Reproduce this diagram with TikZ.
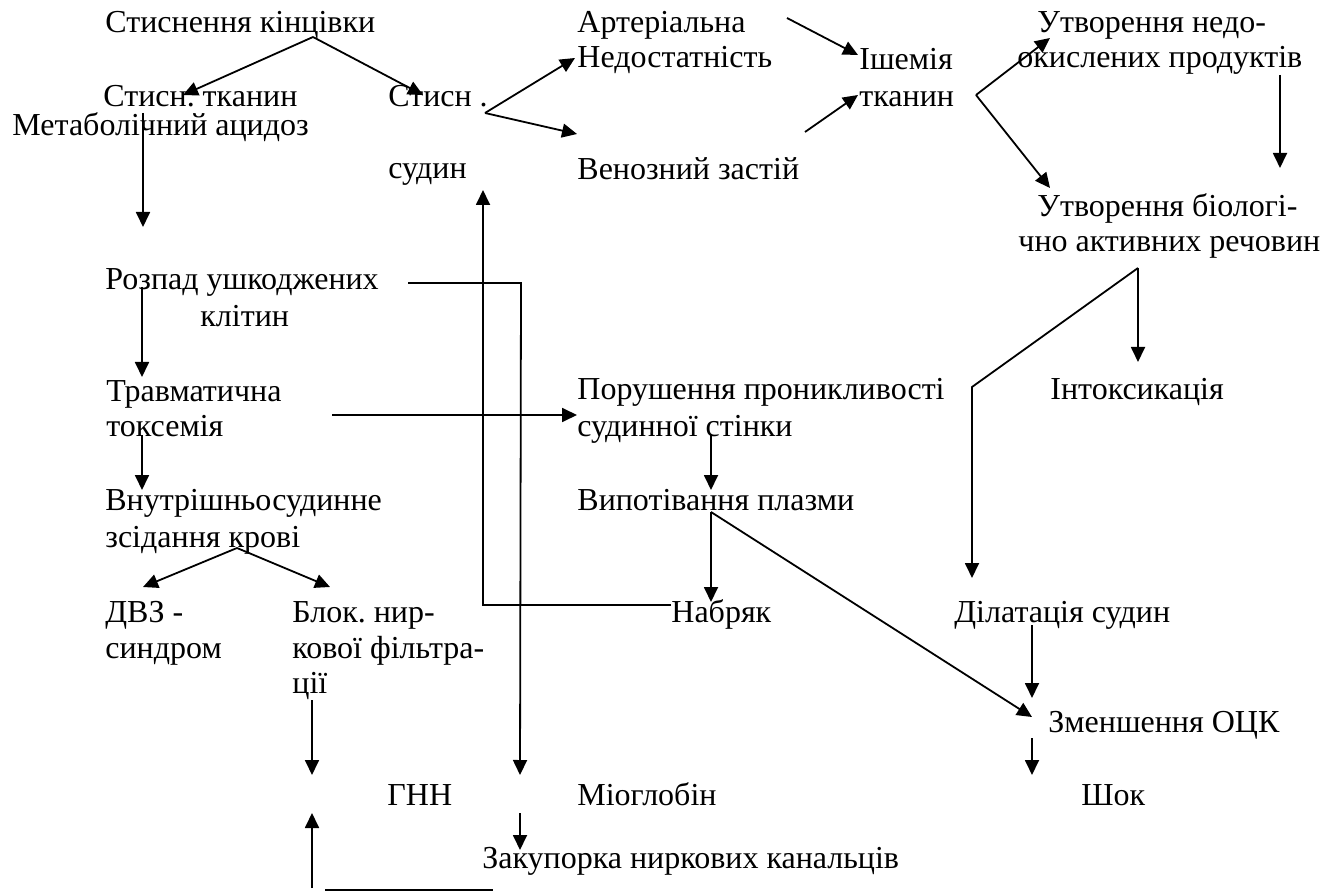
\documentclass[tikz,border=0pt]{standalone}
\usepackage{fontspec}
\setmainfont{Liberation Serif}
\usetikzlibrary{arrows.meta}
\frenchspacing

\begin{document}
\begin{tikzpicture}[
  x=0.5pt, y=-0.5pt,
  txt/.style={anchor=base west, inner sep=0pt, font=\fontsize{16}{18}\selectfont},
  arrow/.style={-{Triangle[length=7.5pt,width=7pt]}, line width=0.9pt},
  link/.style={line width=0.9pt}
]
\useasboundingbox (0,0) rectangle (1339,893);

\node[txt] (kin) at (105,33) {Стиснення кінцівки};
\node[txt] (tkan) at (103,107) {Стисн. тканин};
\node[txt] (acid) at (12,136) {Метаболічний ацидоз};
\node[txt] (sud1) at (388,107) {Стисн .};
\node[txt] (sud2) at (388,179) {судин};
\node[txt] (art1) at (577,33) {Артеріальна};
\node[txt] (art2) at (577,68) {Недостатність};
\node[txt] (ven) at (577,180) {Венозний застій};
\node[txt] (ish1) at (859,70) {Ішемія};
\node[txt] (ish2) at (859,107) {тканин};
\node[txt] (ut1) at (1037,33) {Утворення недо-};
\node[txt] (ut2) at (1017,68) {окислених продуктів};
\node[txt] (bio1) at (1037,217) {Утворення біологі-};
\node[txt] (bio2) at (1018,252) {чно активних речовин};
\node[txt] (roz1) at (105,290) {Розпад ушкоджених};
\node[txt] (roz2) at (200,327) {клітин};
\node[txt] (tr1) at (106,401) {Травматична};
\node[txt] (tr2) at (106,437) {токсемія};
\node[txt] (por1) at (577,400) {Порушення проникливості};
\node[txt] (por2) at (577,437) {судинної стінки};
\node[txt] (intox) at (1050,400) {Інтоксикація};
\node[txt] (vn1) at (105,510) {Внутрішньосудинне};
\node[txt] (vn2) at (105,547) {зсідання крові};
\node[txt] (vyp) at (577,510) {Випотівання плазми};
\node[txt] (dvz1) at (105,622) {ДВЗ -};
\node[txt] (dvz2) at (105,658) {синдром};
\node[txt] (blok1) at (292,622) {Блок. нир-};
\node[txt] (blok2) at (292,658) {кової фільтра-};
\node[txt] (blok3) at (292,693) {ції};
\node[txt] (nab) at (671,622) {Набряк};
\node[txt] (dil) at (954,622) {Ділатація судин};
\node[txt] (ock) at (1048,732) {Зменшення ОЦК};
\node[txt] (gnn) at (387,805) {ГНН};
\node[txt] (mio) at (577,805) {Міоглобін};
\node[txt] (shok) at (1081,805) {Шок};
\node[txt] (zak) at (482,868) {Закупорка ниркових канальців};

\coordinate (kinfork) at (313,37);
\coordinate (tkanin) at (183,95);
\coordinate (sudyn) at (423,95);
\coordinate (acidout) at (143,113);
\coordinate (acidin) at (143,227);
\coordinate (sudfork) at (485,113);
\coordinate (artin) at (575,58);
\coordinate (venin) at (577,134);
\coordinate (artout) at (787,18);
\coordinate (venout) at (805,132);
\coordinate (ishin1) at (858,55);
\coordinate (ishin2) at (858,95);
\coordinate (ishfork) at (976,95);
\coordinate (utin) at (1050,38);
\coordinate (bioin) at (1050,188);
\coordinate (utout) at (1280,75);
\coordinate (utdown) at (1280,168);
\coordinate (biofork) at (1138,268);
\coordinate (intin) at (1138,362);
\coordinate (biobend) at (972,387);
\coordinate (dilin) at (972,578);
\coordinate (rozout) at (142,287);
\coordinate (trin) at (142,377);
\coordinate (trout) at (142,435);
\coordinate (vnin) at (142,490);
\coordinate (rozline) at (408,283);
\coordinate (rozbend) at (521,283);
\coordinate (zakin) at (520,775);
\coordinate (trline) at (332,415);
\coordinate (porin) at (577,415);
\coordinate (nabline) at (671,605);
\coordinate (nabbend) at (483,605);
\coordinate (sudin) at (483,190);
\coordinate (porout) at (711,435);
\coordinate (vypin) at (711,490);
\coordinate (vypfork) at (711,512);
\coordinate (nabin) at (711,602);
\coordinate (ockin) at (1032,717);
\coordinate (dilout) at (1032,625);
\coordinate (dilin2) at (1032,698);
\coordinate (ockout) at (1032,738);
\coordinate (shokin) at (1032,775);
\coordinate (vnfork) at (237,548);
\coordinate (dvzin) at (143,587);
\coordinate (blokin) at (330,587);
\coordinate (blokout) at (312,700);
\coordinate (gnnin) at (312,775);
\coordinate (gnnlow) at (312,888);
\coordinate (gnnin2) at (312,813);
\coordinate (baseA) at (325,890);
\coordinate (baseB) at (493,890);
\coordinate (mioout) at (520,813);
\coordinate (mioin) at (520,850);

\draw[arrow] (kinfork) -- (tkanin);
\draw[arrow] (kinfork) -- (sudyn);
\draw[arrow] (acidout) -- (acidin);
\draw[arrow] (sudfork) -- (artin);
\draw[arrow] (sudfork) -- (venin);
\draw[arrow] (artout) -- (ishin1);
\draw[arrow] (venout) -- (ishin2);
\draw[arrow] (ishfork) -- (utin);
\draw[arrow] (ishfork) -- (bioin);
\draw[arrow] (utout) -- (utdown);
\draw[arrow] (biofork) -- (intin);
\draw[arrow] (biofork) -- (biobend) -- (dilin);
\draw[arrow] (rozout) -- (trin);
\draw[arrow] (trout) -- (vnin);
\draw[arrow] (rozline) -- (rozbend) -- (zakin);
\draw[arrow] (trline) -- (porin);
\draw[arrow] (nabline) -- (nabbend) -- (sudin);
\draw[arrow] (porout) -- (vypin);
\draw[arrow] (vypfork) -- (nabin);
\draw[arrow] (vypfork) -- (ockin);
\draw[arrow] (dilout) -- (dilin2);
\draw[arrow] (ockout) -- (shokin);
\draw[arrow] (vnfork) -- (dvzin);
\draw[arrow] (vnfork) -- (blokin);
\draw[arrow] (blokout) -- (gnnin);
\draw[arrow] (gnnlow) -- (gnnin2);
\draw[link] (baseA) -- (baseB);
\draw[arrow] (mioout) -- (mioin);
\end{tikzpicture}
\end{document}
